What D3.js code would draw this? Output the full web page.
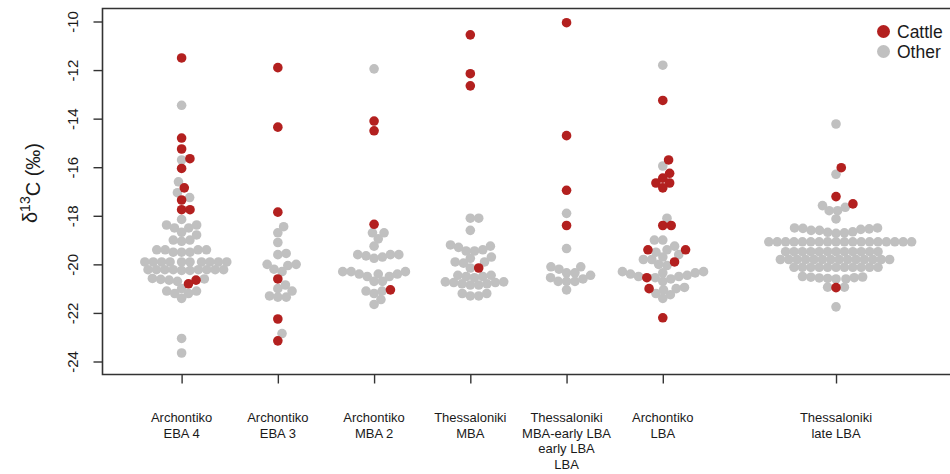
<!DOCTYPE html>
<html><head><meta charset="utf-8">
<script src="https://cdn.jsdelivr.net/npm/d3@7"></script>
<style>
body{margin:0;background:#fff}
svg{display:block}
text{font-family:"Liberation Sans",Arial,sans-serif;fill:#1a1a1a}
</style>
</head><body>
<svg id="chart" width="950" height="474"></svg>
<script>
// ---------- data ----------
const categories = [
  ["Archontiko","EBA 4"],
  ["Archontiko","EBA 3"],
  ["Archontiko","MBA 2"],
  ["Thessaloniki","MBA"],
  ["Thessaloniki","MBA-early LBA","early LBA","LBA"],
  ["Archontiko","LBA"],
  ["Thessaloniki","late LBA"]
];
const yTicks = [-24,-22,-20,-18,-16,-14,-12,-10];
const legendLabels = ["Cattle","Other"];

const cattleArchEBA4 = [-11.5,-14.8,-15.25,-15.65,-16.05,-16.85,-17.35,-17.75,-17.75,-20.65,-20.8];
const otherArchEBA4 = [-13.45,-15.7,-16.6,-17.05,-17.25,-18.15,
  -18.38,-18.38,-18.5,-18.5,-18.68,-18.79,
  -19.0,-19.05,-19.0,
  -19.4,-19.4,-19.4,-19.4,-19.5,-19.5,-19.5,
  -19.9,-19.9,-19.9,-19.9,-19.9,-19.9,-19.9,-19.9,-19.9,-19.9,
  -20.22,-20.22,-20.22,-20.22,-20.22,-20.22,-20.22,-20.22,-20.25,-20.25,
  -20.58,-20.6,-20.62,-20.65,-20.7,
  -21.0,-21.1,-21.1,-21.2,-21.2,
  -21.4,-23.05,-23.65];

const cattleArchEBA3 = [-11.9,-14.35,-17.85,-20.6,-22.25,-23.15];
const otherArchEBA3 = [-18.45,-18.7,-19.1,-19.55,-19.6,-20.0,-20.0,-20.05,-20.2,-20.3,
  -20.85,-21.0,-21.1,-21.3,-21.35,-21.35,-22.85];

const cattleArchMBA2 = [-14.1,-14.5,-18.35,-21.05];
const otherArchMBA2 = [-11.95,-18.7,-18.7,-18.95,-19.25,-19.6,-19.6,-19.65,-19.75,-19.7,-19.6,
  -20.3,-20.3,-20.5,-20.5,-20.4,-20.4,-20.4,-20.3,-20.7,-20.7,
  -21.1,-21.2,-21.1,-21.45,-21.65];

const cattleThesMBA = [-10.55,-12.15,-12.65,-20.15];
const otherThesMBA = [-18.1,-18.1,-18.6,-19.2,-19.25,-19.3,-19.45,-19.45,-19.4,-19.7,-19.75,
  -19.9,-19.9,-20.15,-19.95,-20.45,-20.5,-20.55,-20.45,-20.5,
  -20.72,-20.75,-20.8,-20.85,-20.85,-20.8,-20.75,-20.72,-21.2,-21.3,-21.3,-21.2];

const cattleThesMBAeLBA = [-10.05,-14.7,-16.95,-18.4];
const otherThesMBAeLBA = [-17.9,-19.35,-20.1,-20.1,-20.2,-20.35,-20.45,-20.55,-20.7,-20.7,
  -20.7,-20.6,-20.35,-21.05];

const cattleArchLBA = [-13.25,-15.7,-16.25,-16.45,-16.65,-16.65,-16.85,-18.4,-18.4,-19.4,-19.4,
  -19.9,-20.55,-21.0,-22.2];
const otherArchLBA = [-11.8,-15.95,-18.1,-19.0,-19.0,-19.25,-19.4,-19.5,-19.6,-19.8,-19.8,-19.7,
  -20.0,-20.05,-20.3,-20.35,-20.45,-20.5,-20.55,-20.7,-20.6,-20.5,-20.4,-20.35,-20.3,
  -20.95,-21.05,-21.2,-21.4,-21.25,-21.0];

const cattleThesLateLBA = [-16.02,-17.21,-17.51,-20.96];
const otherThesLateLBA = [-14.22,-16.29,
  -17.58,-17.65,-17.79,-17.79,-18.13,
  -18.5,-18.6,-18.7,-18.52,-18.56,-18.68,-18.54,-18.5,-18.72,-18.66,-18.6,
  -19.07,-19.07,-19.07,-19.07,-19.07,-19.07,-19.07,-19.07,-19.07,
  -19.07,-19.07,-19.07,-19.07,-19.07,-19.07,-19.07,-19.07,-19.07,
  -19.48,-19.48,-19.48,-19.48,-19.48,-19.48,-19.48,-19.48,-19.48,-19.48,-19.48,-19.48,
  -19.8,-19.8,-19.8,-19.8,-19.8,-19.8,-19.8,-19.8,-19.8,-19.8,-19.8,-19.8,-19.8,-19.8,
  -20.12,-20.12,-20.12,-20.12,-20.12,-20.12,-20.12,-20.12,-20.12,-20.12,-20.12,
  -20.6,-20.6,-20.58,-20.56,-20.55,-20.53,-20.52,-20.5,
  -20.94,-20.94,-21.75];

const cattleGroups = [cattleArchEBA4,cattleArchEBA3,cattleArchMBA2,cattleThesMBA,cattleThesMBAeLBA,cattleArchLBA,cattleThesLateLBA];
const otherGroups  = [otherArchEBA4,otherArchEBA3,otherArchMBA2,otherThesMBA,otherThesMBAeLBA,otherArchLBA,otherThesLateLBA];

// ---------- layout ----------
const box = {left:102.5, top:8.5, right:951, bottom:374.5};
const colCattle = "#b3201f", colOther = "#c0c0c0";
const svg = d3.select("#chart");

const groupPos = i => i < 6 ? i + 1 : 7.8;
const x = d3.scaleLinear().domain([0.178, 9.0]).range([box.left, box.right + 0.5]);
const y = d3.scaleLinear().domain([-24, -10]).range([361.5, 21.5]);

// beeswarm (swarm method, ascending priority)
const D = 8.4, R = 4.8;
function swarm(points){
  const order = d3.range(points.length).sort((a,b)=> (points[b].py - points[a].py) || (a-b));
  const placed = [];
  for (const i of order){
    const p = points[i];
    const near = placed.filter(j => Math.abs(points[j].py - p.py) < D);
    const cands = [0];
    for (const j of near){
      const off = Math.sqrt(D*D - (points[j].py - p.py)**2);
      cands.push(points[j].dx + off, points[j].dx - off);
    }
    let best = null;
    for (const c of cands){
      const ok = near.every(j => (points[j].dx - c)**2 + (points[j].py - p.py)**2 >= D*D - 0.01);
      if (ok && (best === null || Math.abs(c) < Math.abs(best) - 1e-9)) best = c;
    }
    p.dx = best; placed.push(i);
  }
}

const allPoints = [];
categories.forEach((c,gi)=>{
  const pts = [];
  otherGroups[gi].forEach(v => pts.push({v, type:"Other", py:y(v)}));
  cattleGroups[gi].forEach(v => pts.push({v, type:"Cattle", py:y(v)}));
  swarm(pts);
  pts.forEach(p => { p.px = x(groupPos(gi)) + p.dx; allPoints.push(p); });
});

// points
svg.append("g").selectAll("circle")
  .data(allPoints.filter(p=>p.type==="Other").concat(allPoints.filter(p=>p.type==="Cattle")))
  .join("circle")
  .attr("cx", d=>d.px).attr("cy", d=>d.py).attr("r", R)
  .attr("fill", d=> d.type==="Cattle" ? colCattle : colOther);

// box
svg.append("path")
  .attr("d", `M${box.right},${box.top}H${box.left}V${box.bottom}H${box.right}`)
  .attr("fill","none").attr("stroke","#333").attr("stroke-width",1.6);

// y axis
const yAxis = svg.append("g").attr("transform",`translate(${box.left},0)`)
  .call(d3.axisLeft(y).tickValues(yTicks).tickSize(9).tickFormat(d=>String(d)));
yAxis.select(".domain").remove();
yAxis.selectAll(".tick line").attr("stroke","#333").attr("stroke-width",1.4);
yAxis.selectAll(".tick text")
  .attr("x",null).attr("dy",null)
  .attr("transform","translate(-30,0) rotate(-90)")
  .attr("text-anchor","middle").attr("dy","0.35em")
  .style("font-size","15px").style("font-family","'Liberation Sans',Arial,sans-serif").attr("fill","#1a1a1a");

// x axis
const xAxis = svg.append("g").attr("transform",`translate(0,${box.bottom})`)
  .call(d3.axisBottom(x).tickValues(categories.map((c,i)=>groupPos(i))).tickSize(9).tickFormat(""));
xAxis.select(".domain").remove();
xAxis.selectAll(".tick line").attr("stroke","#333").attr("stroke-width",1.4);
const xl = svg.append("g");
categories.forEach((lines,i)=>{
  const t = xl.append("text").attr("x", x(groupPos(i))).attr("y", 422)
    .attr("text-anchor","middle").style("font-size","13px");
  lines.forEach((s,k)=> t.append("tspan").attr("x", x(groupPos(i))).attr("y", 422 + k*15.7).text(s));
});

// y title
const yt = svg.append("text").attr("transform","translate(30,183) rotate(-90)")
  .attr("text-anchor","middle").attr("dy","0.35em").style("font-size","20px");
yt.append("tspan").text("δ");
yt.append("tspan").attr("dy","-0.5em").style("font-size","14px").text("13");
yt.append("tspan").attr("dy","0.5em").text("C (‰)");

// legend
const lg = svg.append("g");
legendLabels.forEach((l,i)=>{
  lg.append("circle").attr("cx",883.5).attr("cy",31.5+i*20).attr("r",6.5)
    .attr("fill", l==="Cattle" ? colCattle : colOther);
  lg.append("text").attr("x",897).attr("y",31.5+i*20).attr("dy","0.35em")
    .style("font-size","17.5px").text(l);
});
</script>
</body></html>
